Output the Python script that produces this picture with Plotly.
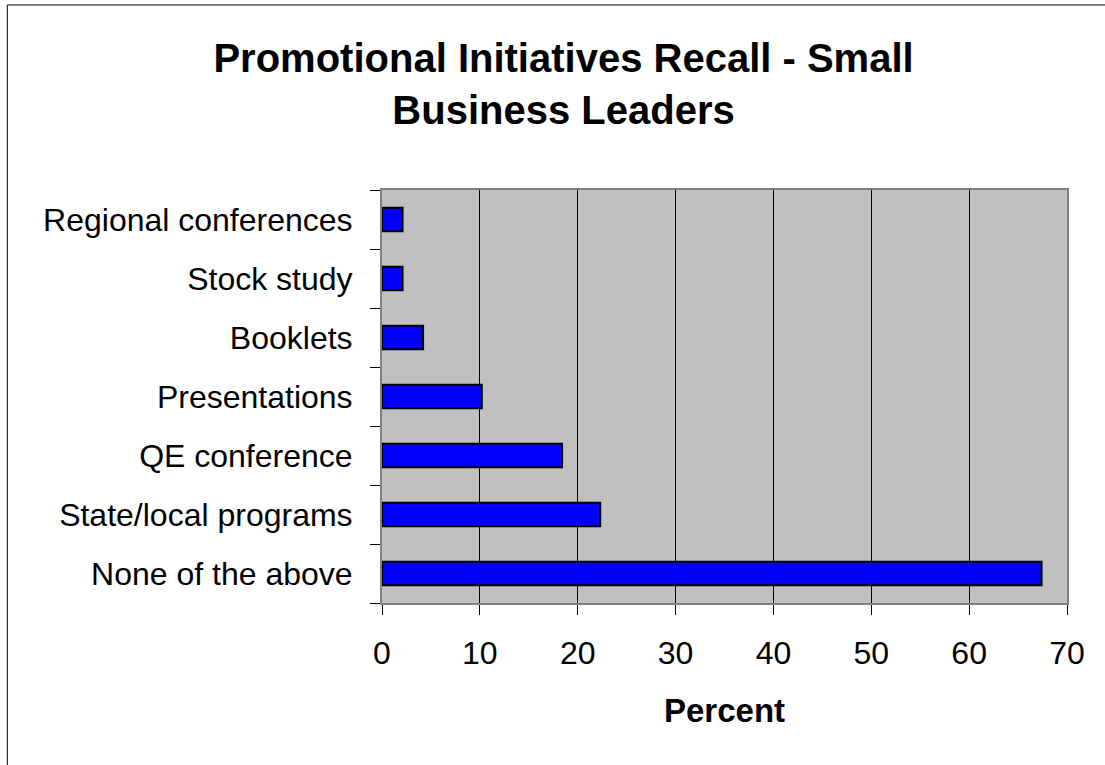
import plotly.graph_objects as go

categories = ["None of the above", "State/local programs", "QE conference",
              "Presentations", "Booklets", "Stock study", "Regional conferences"]
percent = [67.4, 22.3, 18.4, 10.2, 4.2, 2.1, 2.1]
x_ticks = [0, 10, 20, 30, 40, 50, 60, 70]

FONT = "Arial, Liberation Sans, sans-serif"

fig = go.Figure(go.Bar(
    y=categories, x=percent, orientation="h",
    marker=dict(color="#0000FF", line=dict(color="black", width=2)),
))

fig.update_layout(
    width=1105, height=765,
    margin=dict(l=382, r=38, t=190, b=162),
    paper_bgcolor="white", plot_bgcolor="#C0C0C0",
    bargap=0.6, showlegend=False,
    font=dict(family=FONT, size=32, color="black"),
    title=dict(text="<b>Promotional Initiatives Recall - Small<br>Business Leaders</b>",
               x=0.510, xanchor="center", xref="container",
               y=0.906, yanchor="top", yref="container",
               font=dict(family=FONT, size=40, color="black")),
    xaxis=dict(range=[0, 70], tickvals=x_ticks, showgrid=True, gridcolor="black", gridwidth=1,
               ticks="outside", ticklen=10, tickcolor="black", ticklabelstandoff=11,
               showline=True, linecolor="#808080", linewidth=2, mirror=True,
               zeroline=False,
               title=dict(text="<b>Percent</b>", standoff=28, font=dict(size=33))),
    yaxis=dict(type="category", tickson="boundaries", ticks="outside", ticklen=10,
               tickcolor="black", ticklabelstandoff=21, showgrid=False,
               showline=True, linecolor="#808080", linewidth=2, mirror=True),
    # outer chart frame (right and bottom edges fall outside the picture)
    shapes=[dict(type="rect", xref="paper", yref="paper",
                 x0=-0.547, x1=1.08, y0=-0.45, y1=1.448,
                 line=dict(color="black", width=1), fillcolor="rgba(0,0,0,0)", layer="below")],
)

# drop the default 8px page margin so the figure starts at the window corner
fig.write_html("out.html", config={"displayModeBar": False},
               post_script="document.body.style.margin='0';")
